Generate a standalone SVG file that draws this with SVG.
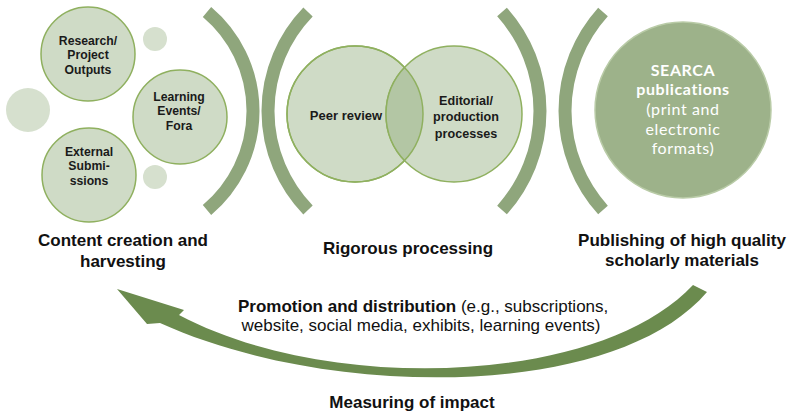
<svg xmlns="http://www.w3.org/2000/svg" width="789" height="418" viewBox="0 0 789 418">
<style>
.bg{fill:#ffffff}
.small{fill:#d6e0ce}
.node{fill:#cfdbc6;stroke:#8fb05f;stroke-width:1.5}
.overlap{fill:#b3c6a4;stroke:#8fb05f;stroke-width:1.5}
.pub{fill:#9db28a;stroke:#b9cba7;stroke-width:1.5}
.bracket{fill:none;stroke:#8fa67c;stroke-width:13}
.arrow{fill:#6b8b4e}
.nt{font-family:"Liberation Sans",Arial,sans-serif;font-weight:bold;font-size:13px;fill:#1a1a1a;text-anchor:middle}
.lbl{font-family:"Liberation Sans",Arial,sans-serif;font-weight:bold;font-size:17px;fill:#111;text-anchor:middle}
.desc{font-family:"Liberation Sans",Arial,sans-serif;font-size:17px;fill:#111}
.pt{font-family:Lato,"Open Sans",sans-serif;font-size:16px;letter-spacing:0.6px;fill:#ffffff;text-anchor:middle}
</style>
<rect class="bg" x="0" y="0" width="789" height="418"/>

<g id="decor">
  <circle class="small" cx="28" cy="110" r="22"/>
  <circle class="small" cx="155" cy="39" r="12"/>
  <circle class="small" cx="155" cy="177" r="12"/>
</g>

<g id="research">
  <circle class="node" cx="88" cy="54" r="47"/>
  <g transform="translate(88,0) scale(0.94,1)">
    <text class="nt" x="0" y="45">Research/</text>
    <text class="nt" x="0" y="59.5">Project</text>
    <text class="nt" x="0" y="74">Outputs</text>
  </g>
</g>
<g id="learning">
  <circle class="node" cx="180" cy="117" r="47"/>
  <g transform="translate(179,0) scale(0.94,1)">
    <text class="nt" x="0" y="101">Learning</text>
    <text class="nt" x="0" y="115.5">Events/</text>
    <text class="nt" x="0" y="130">Fora</text>
  </g>
</g>
<g id="external">
  <circle class="node" cx="89" cy="175" r="47"/>
  <g transform="translate(89,0) scale(0.94,1)">
    <text class="nt" x="0" y="156">External</text>
    <text class="nt" x="0" y="170.5">Submi-</text>
    <text class="nt" x="0" y="185">ssions</text>
  </g>
</g>

<g id="brackets">
  <path class="bracket" d="M 207 12 A 129.5 129.5 0 0 1 207 210"/>
  <path class="bracket" d="M 308 12 A 142.5 142.5 0 0 0 308 210"/>
  <path class="bracket" d="M 502 12 A 148 148 0 0 1 502 210"/>
  <path class="bracket" d="M 603 12 A 148 148 0 0 0 603 210"/>
</g>

<g id="peer-review">
  <circle class="node" cx="355" cy="114" r="68"/>
</g>
<g id="editorial">
  <circle class="node" cx="454" cy="114" r="68"/>
</g>
<g id="venn-overlap">
  <clipPath id="clipL"><circle cx="355" cy="114" r="68"/></clipPath>
  <circle class="overlap" cx="454" cy="114" r="68" clip-path="url(#clipL)"/>
  <circle cx="355" cy="114" r="68" fill="none" stroke="#8fb05f" stroke-width="1.5"/>
  <text class="nt" x="346" y="120" font-size="13.5">Peer review</text>
  <g transform="translate(466,0) scale(0.97,1)">
    <text class="nt" x="0" y="105">Editorial/</text>
    <text class="nt" x="0" y="121.5">production</text>
    <text class="nt" x="0" y="138">processes</text>
  </g>
</g>

<g id="searca">
  <circle class="pub" cx="683" cy="110" r="88"/>
  <text class="pt" x="683" y="76" font-weight="bold">SEARCA</text>
  <text class="pt" x="683" y="95" font-weight="bold">publications</text>
  <text class="pt" x="683" y="115">(print and</text>
  <text class="pt" x="683" y="135">electronic</text>
  <text class="pt" x="683" y="154">formats)</text>
</g>

<g id="labels">
  <text class="lbl" x="123" y="246">Content creation and</text>
  <text class="lbl" x="123" y="267">harvesting</text>
  <text class="lbl" x="408" y="254">Rigorous processing</text>
  <text class="lbl" x="682" y="246">Publishing of high quality</text>
  <text class="lbl" x="682" y="266">scholarly materials</text>
  <text class="lbl" x="412" y="408">Measuring of impact</text>
</g>

<g id="connectors">
  <path class="arrow" d="M 117 289 L 184 310 L 179 315 C 330 395, 600 385, 693 285 L 707 292 C 615 400, 330 400, 160 323 L 147 324 Z"/>
  <text class="desc" x="238" y="312"><tspan font-weight="bold">Promotion and distribution</tspan> (e.g., subscriptions,</text>
  <text class="desc" x="421" y="331" text-anchor="middle">website, social media, exhibits, learning events)</text>
</g>
</svg>
